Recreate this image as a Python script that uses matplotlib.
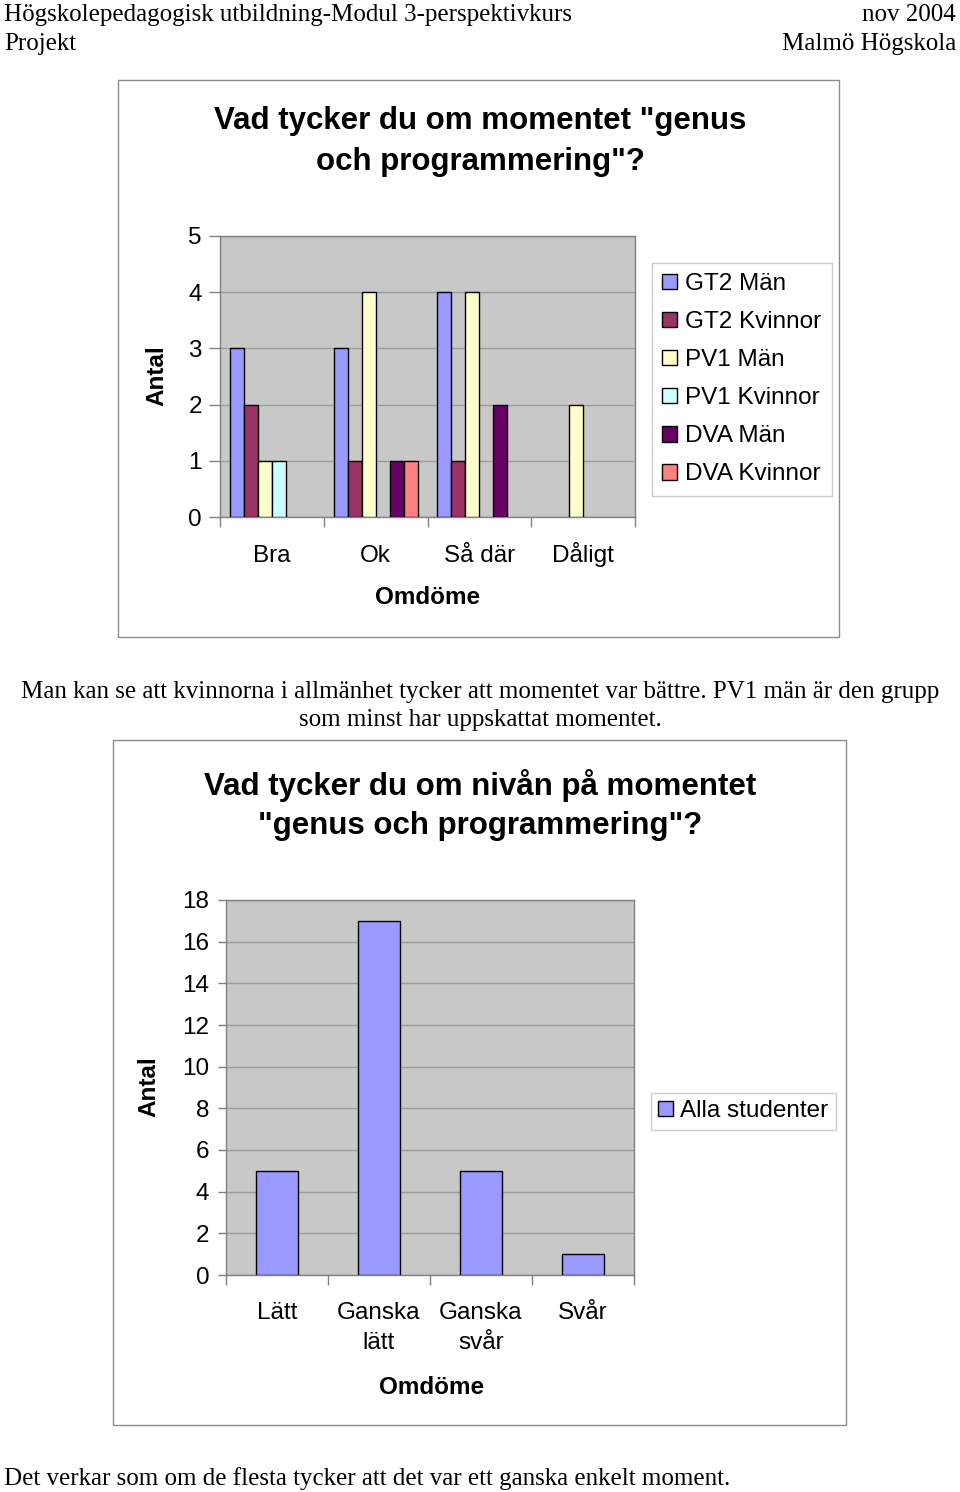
import matplotlib
matplotlib.use("Agg")
import matplotlib.pyplot as plt
from matplotlib.patches import Rectangle
import numpy as np

# ---------------- data ----------------
cats1 = ["Bra", "Ok", "Så där", "Dåligt"]
series_names = ["GT2 Män", "GT2 Kvinnor", "PV1 Män", "PV1 Kvinnor", "DVA Män", "DVA Kvinnor"]
gt2_man = [3, 3, 4, 0]
gt2_kvinnor = [2, 1, 1, 0]
pv1_man = [1, 4, 4, 2]
pv1_kvinnor = [1, 0, 0, 0]
dva_man = [0, 1, 2, 0]
dva_kvinnor = [0, 1, 0, 0]
series_colors = ["#9999FF", "#993366", "#FFFFCC", "#CCFFFF", "#660066", "#FF8080"]

cats2 = ["Lätt", "Ganska\nlätt", "Ganska\nsvår", "Svår"]
alla = [5, 17, 5, 1]
yticks1 = [0, 1, 2, 3, 4, 5]
yticks2 = [0, 2, 4, 6, 8, 10, 12, 14, 16, 18]

W, H = 960, 1492
fig = plt.figure(figsize=(W / 100, H / 100), dpi=100)

SANS = "Liberation Sans"
SERIF = "Liberation Serif"
BG = "#C8C8C8"
GRID = "#9C9C9C"
SPINE = "#808080"
FS = 17.5


def fx(x):
    return x / W


def fy(y):
    return 1 - y / H


# header / body text
fig.text(fx(4), fy(15), "Högskolepedagogisk utbildning-Modul 3-perspektivkurs", family=SERIF, fontsize=18, va="center", ha="left")
fig.text(fx(4), fy(44), "Projekt", family=SERIF, fontsize=18, va="center", ha="left")
fig.text(fx(956), fy(15), "nov 2004", family=SERIF, fontsize=18, va="center", ha="right")
fig.text(fx(956), fy(44), "Malmö Högskola", family=SERIF, fontsize=18, va="center", ha="right")
fig.text(fx(480), fy(692), "Man kan se att kvinnorna i allmänhet tycker att momentet var bättre. PV1 män är den grupp",
         family=SERIF, fontsize=18, va="center", ha="center")
fig.text(fx(480), fy(720), "som minst har uppskattat momentet.", family=SERIF, fontsize=18, va="center", ha="center")
fig.text(fx(4), fy(1479), "Det verkar som om de flesta tycker att det var ett ganska enkelt moment.",
         family=SERIF, fontsize=18, va="center", ha="left")

# frames
for (x0, y0, x1, y1) in [(118, 80, 839, 637), (113, 740, 846, 1425)]:
    fig.patches.append(Rectangle((fx(x0), fy(y1)), fx(x1) - fx(x0), fy(y0) - fy(y1),
                                 transform=fig.transFigure, fill=False, edgecolor="#8C8C8C", linewidth=1.0))


def style_axes(ax, ncat, ymax, yticks, ticklen, ypad, xpad):
    ax.set_facecolor(BG)
    ax.set_xlim(-0.5, ncat - 0.5)
    ax.set_ylim(0, ymax)
    ax.set_yticks(yticks)
    ax.yaxis.grid(True, color=GRID, linewidth=1.0)
    ax.set_axisbelow(True)
    for s in ax.spines.values():
        s.set_color(SPINE)
        s.set_linewidth(1.0)
    ax.tick_params(axis="y", length=ticklen, width=1, color=SPINE, pad=ypad, labelsize=FS)
    ax.set_xticks(np.arange(ncat))
    ax.set_xticks(np.arange(ncat + 1) - 0.5, minor=True)
    ax.tick_params(axis="x", which="major", length=0, pad=xpad, labelsize=FS)
    ax.tick_params(axis="x", which="minor", length=7, width=1, color=SPINE)


def fix_xlabels(ax, labels, va, ls=1.0):
    ax.set_xticklabels(labels, linespacing=ls)
    for lab in ax.get_xticklabels() + ax.get_yticklabels():
        lab.set_family(SANS)
    for lab in ax.get_xticklabels():
        lab.set_va(va)


# ---------------- chart 1 ----------------
ax1 = fig.add_axes([fx(220), fy(517), fx(635) - fx(220), fy(236) - fy(517)])
series = [gt2_man, gt2_kvinnor, pv1_man, pv1_kvinnor, dva_man, dva_kvinnor]
bw = 0.135
x = np.arange(len(cats1))
handles = []
for i, (vals, name, col) in enumerate(zip(series, series_names, series_colors)):
    offs = (i - 2.5) * bw
    lws = [1.0 if v > 0 else 0.0 for v in vals]
    ax1.bar(x + offs, vals, width=bw, color=col, edgecolor="black", linewidth=lws, label=name, zorder=3)
    handles.append(Rectangle((0, 0), 1, 1, facecolor=col, edgecolor="black", linewidth=1.0))
style_axes(ax1, len(cats1), 5, yticks1, 8, 5, 32.5)
fix_xlabels(ax1, cats1, "baseline")

fig.text(fx(480), fy(121), 'Vad tycker du om momentet "genus', family=SANS, fontsize=22.5, weight="bold", ha="center", va="center")
fig.text(fx(480), fy(162), 'och programmering"?', family=SANS, fontsize=22.5, weight="bold", ha="center", va="center")
fig.text(fx(157), fy(376), "Antal", family=SANS, fontsize=FS, weight="bold", rotation=90, ha="center", va="center")
fig.text(fx(428), fy(598), "Omdöme", family=SANS, fontsize=FS, weight="bold", ha="center", va="center")

leg1 = fig.legend(handles=handles, labels=series_names, loc="upper left",
                  bbox_to_anchor=(fx(652), fy(263)), bbox_transform=fig.transFigure,
                  prop={"family": SANS, "size": FS}, frameon=True, fancybox=False,
                  edgecolor="#C0C0C0", handlelength=0.6, handleheight=0.6, handletextpad=0.35,
                  labelspacing=0.66, borderpad=0.42, borderaxespad=0)
leg1.get_frame().set_linewidth(1.0)

# ---------------- chart 2 ----------------
ax2 = fig.add_axes([fx(226), fy(1275), fx(634) - fx(226), fy(900) - fy(1275)])
ax2.bar(np.arange(len(cats2)), alla, width=0.41, color="#9999FF", edgecolor="black", linewidth=1.0,
        label="Alla studenter", zorder=3)
style_axes(ax2, len(cats2), 18, yticks2, 6, 6, 19.5)
fix_xlabels(ax2, cats2, "top", ls=1.45)

fig.text(fx(480), fy(785), "Vad tycker du om nivån på momentet", family=SANS, fontsize=22.5, weight="bold", ha="center", va="center")
fig.text(fx(480), fy(826), '"genus och programmering"?', family=SANS, fontsize=22.5, weight="bold", ha="center", va="center")
fig.text(fx(149), fy(1087), "Antal", family=SANS, fontsize=FS, weight="bold", rotation=90, ha="center", va="center")
fig.text(fx(432), fy(1387), "Omdöme", family=SANS, fontsize=FS, weight="bold", ha="center", va="center")

leg2 = fig.legend(handles=[Rectangle((0, 0), 1, 1, facecolor="#9999FF", edgecolor="black", linewidth=1.0)],
                  labels=["Alla studenter"], loc="upper left",
                  bbox_to_anchor=(fx(651), fy(1093)), bbox_transform=fig.transFigure,
                  prop={"family": SANS, "size": FS}, frameon=True, fancybox=False,
                  edgecolor="#C0C0C0", handlelength=0.6, handleheight=0.6, handletextpad=0.3,
                  borderpad=0.3, borderaxespad=0)
leg2.get_frame().set_linewidth(1.0)

fig.savefig("out.png", dpi=100, facecolor="white")
